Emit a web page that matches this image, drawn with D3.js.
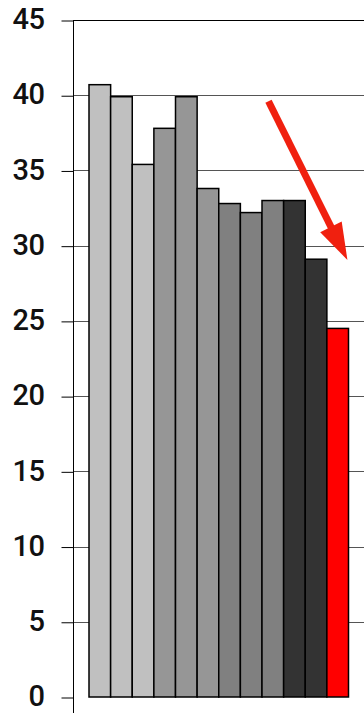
<!DOCTYPE html>
<html>
<head>
<meta charset="utf-8">
<script src="https://cdn.jsdelivr.net/npm/d3@7"></script>
<style>
  html, body { margin: 0; padding: 0; background: #fff; }
  svg { display: block; }
</style>
</head>
<body>
<div id="chart"></div>
<script>
// Bar values
const categories = ['1', '2', '3', '4', '5', '6', '7', '8', '9', '10', '11', '12'];
const values = [40.7, 39.9, 35.4, 37.8, 39.9, 33.8, 32.8, 32.2, 33.0, 33.0, 29.1, 24.5];
const barColors = ['#c0c0c0', '#c0c0c0', '#c0c0c0', '#969696', '#969696', '#969696',
  '#808080', '#808080', '#808080', '#333333', '#333333', '#ff0000'];
const yTicks = [0, 5, 10, 15, 20, 25, 30, 35, 40, 45];
// arrow annotation: position in bar units, value on the y axis
const arrowFrom = { pos: 8.3, value: 39.6 };
const arrowTo = { pos: 11.95, value: 29.05 };

const W = 364, H = 713;
const plotLeft = 73, plotTop = 20, plotBottom = 697;

const svg = d3.select('#chart').append('svg')
  .attr('width', W)
  .attr('height', H);

const y = d3.scaleLinear()
  .domain([0, 45])
  .range([plotBottom, plotTop]);

const x = d3.scaleBand()
  .domain(categories)
  .range([89, 348.5])
  .padding(0);

const pos = d3.scaleLinear()
  .domain([0, categories.length])
  .range([89, 348.5]);

// gridlines
svg.append('g')
  .selectAll('line')
  .data(yTicks.filter(d => d > 0 && d < 45))
  .enter()
  .append('line')
  .attr('x1', plotLeft)
  .attr('x2', W)
  .attr('y1', d => Math.round(y(d)) + 0.5)
  .attr('y2', d => Math.round(y(d)) + 0.5)
  .attr('stroke', '#555')
  .attr('stroke-width', 1);

// top line
svg.append('line')
  .attr('x1', plotLeft)
  .attr('x2', W)
  .attr('y1', Math.round(y(45)) + 0.5)
  .attr('y2', Math.round(y(45)) + 0.5)
  .attr('stroke', '#000');

// bars
svg.append('g')
  .selectAll('rect')
  .data(values)
  .enter()
  .append('rect')
  .attr('x', (d, i) => x(categories[i]))
  .attr('y', d => y(d))
  .attr('width', x.bandwidth())
  .attr('height', d => y(0) - y(d))
  .attr('fill', (d, i) => barColors[i])
  .attr('stroke', '#000')
  .attr('stroke-width', 1.5);

// y axis
const axis = svg.append('g')
  .attr('transform', `translate(${plotLeft + 0.5},0)`)
  .call(d3.axisLeft(y).tickValues(yTicks).tickSize(12).tickPadding(17));

axis.select('.domain').remove();
axis.selectAll('.tick line')
  .attr('stroke', '#000')
  .attr('transform', 'translate(0,0.5)');
axis.selectAll('.tick text')
  .attr('dy', '0.3em')
  .style('font-family', 'Roboto, sans-serif')
  .style('font-size', '29px')
  .style('font-weight', '500')
  .style('letter-spacing', '-0.5px')
  .attr('fill', '#111');

svg.append('line')
  .attr('x1', plotLeft + 0.5)
  .attr('x2', plotLeft + 0.5)
  .attr('y1', plotTop)
  .attr('y2', H)
  .attr('stroke', '#000');

// arrow annotation
const x0 = pos(arrowFrom.pos), y0 = y(arrowFrom.value);
const x1 = pos(arrowTo.pos), y1 = y(arrowTo.value);
const len = Math.hypot(x1 - x0, y1 - y0);
const ux = (x1 - x0) / len, uy = (y1 - y0) / len;
const headLen = 37, headHalf = 12;
const bx = x1 - ux * headLen, by = y1 - uy * headLen;

svg.append('line')
  .attr('x1', x0)
  .attr('y1', y0)
  .attr('x2', bx + ux * 2)
  .attr('y2', by + uy * 2)
  .attr('stroke', '#f0200f')
  .attr('stroke-width', 7);

svg.append('path')
  .attr('d', d3.line()([
    [x1, y1],
    [bx - uy * headHalf, by + ux * headHalf],
    [bx + uy * headHalf, by - ux * headHalf]
  ]) + 'Z')
  .attr('fill', '#f0200f');
</script>
</body>
</html>
